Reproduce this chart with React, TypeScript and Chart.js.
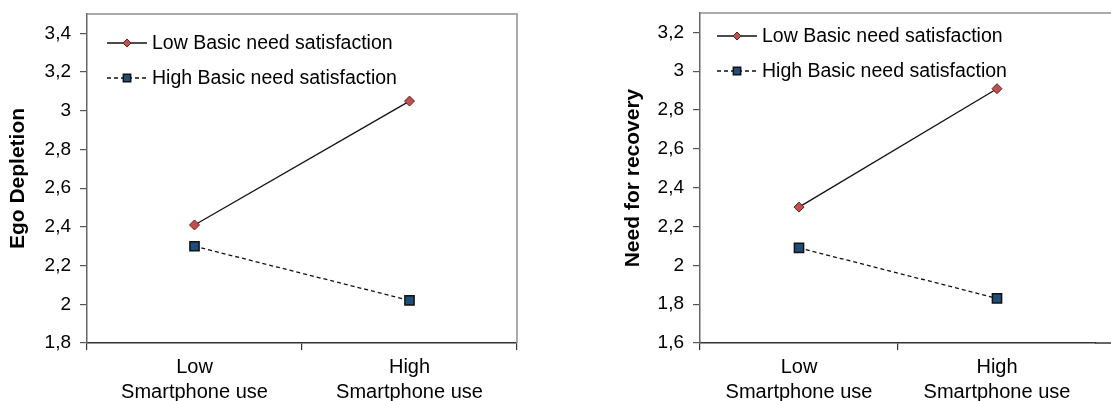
import React, { useEffect, useRef } from 'react';
import { Chart, registerables } from 'chart.js';

Chart.register(...registerables);

// ---------- data ----------
const categories = [['Low', 'Smartphone use'], ['High', 'Smartphone use']];
const seriesNames = ['Low Basic need satisfaction', 'High Basic need satisfaction'];
const yTitles = ['Ego Depletion', 'Need for recovery'];

const egoLowBNS = [2.41, 3.05];
const egoHighBNS = [2.30, 2.02];
const recoveryLowBNS = [2.30, 2.91];
const recoveryHighBNS = [2.09, 1.83];

const egoTicks = [1.8, 2.0, 2.2, 2.4, 2.6, 2.8, 3.0, 3.2, 3.4];
const recoveryTicks = [1.6, 1.8, 2.0, 2.2, 2.4, 2.6, 2.8, 3.0, 3.2];
const egoRange = [1.8, 3.5];
const recoveryRange = [1.6, 3.3];

// ---------- styling ----------
const FAMILY = '"Liberation Sans", Arial, Helvetica, sans-serif';
const fmt = (v: number) => String(Math.round(v * 10) / 10).replace('.', ',');

function drawMarker(ctx: CanvasRenderingContext2D, style: string, x: number, y: number, r: number, fill: string, stroke: string, lw: number) {
  ctx.beginPath();
  if (style === 'rect') {
    const s = Math.SQRT1_2 * r;
    ctx.rect(x - s, y - s, 2 * s, 2 * s);
  } else {
    ctx.moveTo(x, y - r);
    ctx.lineTo(x + r, y);
    ctx.lineTo(x, y + r);
    ctx.lineTo(x - r, y);
    ctx.closePath();
  }
  ctx.fillStyle = fill;
  ctx.fill();
  ctx.lineWidth = lw;
  ctx.strokeStyle = stroke;
  ctx.stroke();
}

const plotFrame = {
  id: 'plotFrame',
  afterDraw(chart: any, _a: any, o: any) {
    const { ctx, chartArea: a, width } = chart;
    ctx.save();
    ctx.strokeStyle = o.color;
    ctx.lineWidth = o.width;
    ctx.beginPath();
    ctx.moveTo(a.left, a.top);
    if (o.extend) {
      ctx.lineTo(width, a.top);
    } else {
      ctx.lineTo(a.right, a.top);
      ctx.lineTo(a.right, a.bottom);
    }
    ctx.stroke();
    if (o.extend) {
      ctx.strokeStyle = o.axisColor;
      ctx.lineWidth = o.axisWidth;
      ctx.beginPath();
      ctx.moveTo(a.right - 1, a.bottom);
      ctx.lineTo(width, a.bottom);
      ctx.stroke();
    }
    ctx.restore();
  },
};

const insideLegend = {
  id: 'insideLegend',
  afterDatasetsDraw(chart: any, _a: any, o: any) {
    const { ctx, chartArea } = chart;
    ctx.save();
    ctx.font = o.font;
    ctx.textBaseline = 'middle';
    ctx.textAlign = 'left';
    chart.data.datasets.forEach((ds: any, i: number) => {
      const y = chartArea.top + o.top + i * o.rowGap;
      const x0 = chartArea.left + o.left;
      const x1 = x0 + o.lineLength;
      ctx.beginPath();
      ctx.setLineDash(ds.borderDash || []);
      ctx.strokeStyle = ds.borderColor;
      ctx.lineWidth = ds.borderWidth;
      ctx.moveTo(x0, y);
      ctx.lineTo(x1, y);
      ctx.stroke();
      ctx.setLineDash([]);
      drawMarker(ctx, ds.pointStyle, (x0 + x1) / 2, y, ds.pointRadius * o.markerScale,
        ds.pointBackgroundColor, ds.pointBorderColor, ds.pointBorderWidth);
      ctx.fillStyle = o.color;
      ctx.fillText(ds.label, x1 + o.textGap, y + 1);
    });
    ctx.restore();
  },
};

function makeConfig(p: {
  low: number[]; high: number[]; ticks: number[]; range: number[]; title: string;
  padLeft: number; padRight: number; padTop: number; axisWidth: number; extend: boolean;
  legendLeft: number; legendTop: number;
}) {
  return {
    type: 'line' as const,
    data: {
      labels: categories,
      datasets: [
        {
          label: seriesNames[0], data: p.low,
          borderColor: '#111', borderWidth: 1.3, tension: 0,
          pointStyle: 'rectRot', pointRadius: 5,
          pointBackgroundColor: '#c0504d', pointBorderColor: '#5e2220', pointBorderWidth: 1,
        },
        {
          label: seriesNames[1], data: p.high,
          borderColor: '#111', borderWidth: 1.3, borderDash: [4, 3], tension: 0,
          pointStyle: 'rect', pointRadius: 6.5,
          pointBackgroundColor: '#1f4e79', pointBorderColor: '#111', pointBorderWidth: 1.5,
        },
      ],
    },
    options: {
      responsive: false,
      animation: false as const,
      devicePixelRatio: 1,
      events: [],
      layout: { padding: { left: p.padLeft, right: p.padRight, top: p.padTop, bottom: 0 } },
      plugins: {
        legend: { display: false },
        tooltip: { enabled: false },
        plotFrame: { color: '#8f8f8f', width: 1.5, extend: p.extend, axisColor: '#333', axisWidth: 1.5 },
        insideLegend: {
          font: `19.5px ${FAMILY}`, color: '#000', left: p.legendLeft, top: p.legendTop, rowGap: 35,
          lineLength: 40, textGap: 5, markerScale: 0.8,
        },
      },
      scales: {
        x: {
          type: 'category' as const,
          offset: true,
          grid: {
            offset: true, drawOnChartArea: false, drawTicks: true, tickLength: 7, lineWidth: 1.2,
            tickColor: (c: any) => (p.extend && c.type === 'scale' ? 'rgba(0,0,0,0)' : '#333'),
          },
          border: { display: true, color: '#333', width: 1.5 },
          ticks: {
            color: '#000', font: { family: FAMILY, size: 20, lineHeight: 1.25 },
            padding: 5, maxRotation: 0, autoSkip: false,
          },
          afterFit: (s: any) => { s.height = 401 - 343; s.paddingLeft = 0; s.paddingRight = 0; },
        },
        y: {
          min: p.range[0], max: p.range[1],
          afterBuildTicks: (s: any) => { s.ticks = p.ticks.map((v) => ({ value: v })); },
          ticks: { color: '#000', font: { family: FAMILY, size: 19 }, padding: 9, callback: (v: any) => fmt(Number(v)) },
          grid: { drawOnChartArea: false, drawTicks: true, tickLength: 7, tickColor: '#555', lineWidth: 1.2 },
          border: { display: true, color: '#666', width: 1.5 },
          title: {
            display: true, text: p.title, color: '#000',
            font: { family: FAMILY, size: 21, weight: 'bold' as const },
            padding: { top: 6, bottom: 0 },
          },
          afterFit: (s: any) => { s.width = p.axisWidth; s.paddingTop = 0; s.paddingBottom = 0; },
        },
      },
    },
    plugins: [plotFrame, insideLegend],
  };
}

function ChartCanvas(props: { config: any; left: number; width: number }) {
  const ref = useRef<HTMLCanvasElement | null>(null);
  useEffect(() => {
    if (!ref.current) return;
    const chart = new Chart(ref.current, props.config);
    return () => chart.destroy();
  }, []);
  return (
    <canvas
      ref={ref}
      width={props.width}
      height={401}
      style={{ position: 'absolute', left: props.left, top: 0, width: props.width, height: 401 }}
    />
  );
}

export default function App() {
  const leftCfg = makeConfig({
    low: egoLowBNS, high: egoHighBNS, ticks: egoTicks, range: egoRange, title: yTitles[0],
    padLeft: 0, padRight: 560 - 517, padTop: 14, axisWidth: 87, extend: false,
    legendLeft: 20, legendTop: 29,
  });
  const rightCfg = makeConfig({
    low: recoveryLowBNS, high: recoveryHighBNS, ticks: recoveryTicks, range: recoveryRange, title: yTitles[1],
    padLeft: 55, padRight: 15, padTop: 13, axisWidth: 85, extend: true,
    legendLeft: 17, legendTop: 23,
  });
  return (
    <div style={{ position: 'fixed', left: 0, top: 0, width: 1111, height: 401, background: '#fff', overflow: 'hidden' }}>
      <ChartCanvas config={leftCfg} left={0} width={560} />
      <ChartCanvas config={rightCfg} left={560} width={551} />
    </div>
  );
}
